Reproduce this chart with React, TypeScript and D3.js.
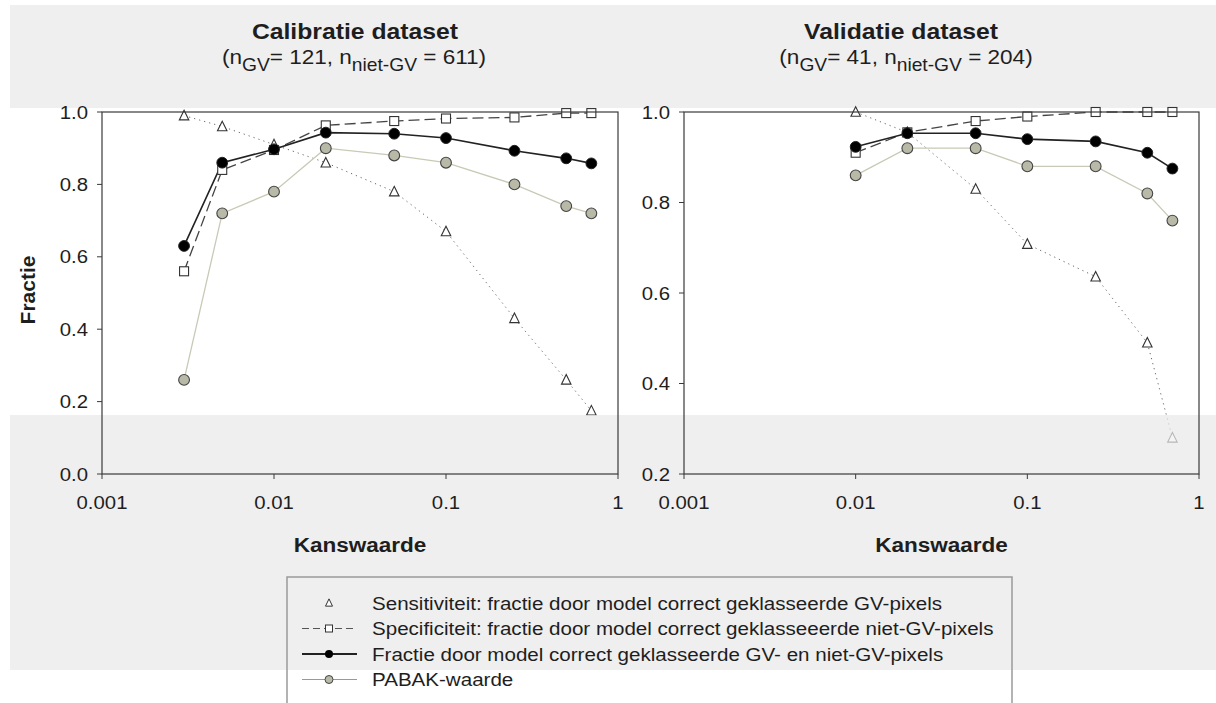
import React from "react";
import * as d3 from "d3";

// ---- data ----
const xCal = [0.003, 0.005, 0.01, 0.02, 0.05, 0.1, 0.25, 0.5, 0.7];
const sensCal = [0.99, 0.96, 0.91, 0.86, 0.78, 0.67, 0.43, 0.26, 0.175];
const specCal = [0.56, 0.84, 0.895, 0.963, 0.975, 0.982, 0.985, 0.997, 0.997];
const fracCal = [0.63, 0.86, 0.897, 0.943, 0.94, 0.928, 0.893, 0.872, 0.858];
const pabakCal = [0.26, 0.72, 0.78, 0.9, 0.88, 0.86, 0.8, 0.74, 0.72];

const xVal = [0.01, 0.02, 0.05, 0.1, 0.25, 0.5, 0.7];
const sensVal = [1.0, 0.955, 0.83, 0.708, 0.636, 0.49, 0.28];
const specVal = [0.91, 0.955, 0.98, 0.99, 1.0, 1.0, 1.0];
const fracVal = [0.923, 0.953, 0.953, 0.94, 0.935, 0.91, 0.875];
const pabakVal = [0.86, 0.92, 0.92, 0.88, 0.88, 0.82, 0.76];

const xTicks = [0.001, 0.01, 0.1, 1];
const xTickLabels = ["0.001", "0.01", "0.1", "1"];
const yTicksCal = [0, 0.2, 0.4, 0.6, 0.8, 1.0];
const yTicksVal = [0.2, 0.4, 0.6, 0.8, 1.0];

const legendLabels = [
  "Sensitiviteit: fractie door model correct geklasseerde GV-pixels",
  "Specificiteit: fractie door model correct geklasseeerde niet-GV-pixels",
  "Fractie door model correct geklasseerde GV- en niet-GV-pixels",
  "PABAK-waarde",
];

const FONT = "'Liberation Sans', Arial, sans-serif";
const SX = 1.1;
const TXT = "#1e1e1e";
const BAND = "#efefef";

function SText({ x, y, size, anchor = "start", bold = false, children }: any) {
  return (
    <text
      transform={`translate(${x},${y}) scale(${SX},1)`}
      fontSize={size}
      fontFamily={FONT}
      fontWeight={bold ? "bold" : "normal"}
      textAnchor={anchor}
      fill={TXT}
    >
      {children}
    </text>
  );
}

function Triangle({ cx, cy, s = 9.5, sw = 1.1 }: any) {
  const h = s * 0.9;
  const p = `M${cx},${cy - h / 2 - 1}L${cx + s / 2},${cy + h / 2}L${cx - s / 2},${cy + h / 2}Z`;
  return <path d={p} fill="#fff" stroke="#333" strokeWidth={sw} />;
}
function Square({ cx, cy, s = 9, sw = 1.1 }: any) {
  return <rect x={cx - s / 2} y={cy - s / 2} width={s} height={s} fill="#fff" stroke="#333" strokeWidth={sw} />;
}

type PanelProps = {
  x0: number; x1: number; y0: number; y1: number;
  yDomain: [number, number]; yTicks: number[];
  xs: number[]; sens: number[]; spec: number[]; frac: number[]; pabak: number[];
};

function Panel(p: PanelProps) {
  const xs = d3.scaleLog().domain([0.001, 1]).range([p.x0, p.x1]);
  const ys = d3.scaleLinear().domain(p.yDomain).range([p.y1, p.y0]);
  const mk = (vals: number[]) =>
    d3.line<number>().x((_, i) => xs(p.xs[i])).y((v) => ys(v))(vals) || "";
  return (
    <g>
      {/* lines */}
      <path d={mk(p.sens)} fill="none" stroke="#666" strokeWidth={1} strokeDasharray="1.2,4" />
      <path d={mk(p.pabak)} fill="none" stroke="#c9c9b6" strokeWidth={1.3} />
      <path d={mk(p.spec)} fill="none" stroke="#444" strokeWidth={1.3} strokeDasharray="11,5" />
      <path d={mk(p.frac)} fill="none" stroke="#222" strokeWidth={1.6} />
      {/* markers */}
      {p.sens.map((v, i) => <Triangle key={"t" + i} cx={xs(p.xs[i])} cy={ys(v)} />)}
      {p.pabak.map((v, i) => (
        <circle key={"p" + i} cx={xs(p.xs[i])} cy={ys(v)} r={5.4} fill="#b9b9a8" stroke="#444" strokeWidth={1.1} />
      ))}
      {p.spec.map((v, i) => <Square key={"s" + i} cx={xs(p.xs[i])} cy={ys(v)} />)}
      {p.frac.map((v, i) => (
        <circle key={"f" + i} cx={xs(p.xs[i])} cy={ys(v)} r={5.4} fill="#000" stroke="#222" strokeWidth={1} />
      ))}
      {/* washed-out scan band over the lower part of the plot */}
      <rect x={p.x0 + 1} y={415} width={p.x1 - p.x0 - 2} height={p.y1 - 415 - 1} fill={BAND} opacity={0.7} />
      {/* frame */}
      <rect x={p.x0} y={p.y0} width={p.x1 - p.x0} height={p.y1 - p.y0} fill="none" stroke="#3a3a3a" strokeWidth={1.2} />
      {/* y ticks */}
      {p.yTicks.map((t) => (
        <g key={"y" + t}>
          <line x1={p.x0 - 5} x2={p.x0} y1={ys(t)} y2={ys(t)} stroke="#3a3a3a" strokeWidth={1} />
          <SText x={p.x0 - 14} y={ys(t) + 6.5} size={18.5} anchor="end">{t.toFixed(1)}</SText>
        </g>
      ))}
      {/* x ticks */}
      {xTicks.map((t, i) => (
        <g key={"x" + t}>
          <line x1={xs(t)} x2={xs(t)} y1={p.y1} y2={p.y1 + 5} stroke="#3a3a3a" strokeWidth={1} />
          <SText x={xs(t)} y={p.y1 + 35} size={18.5} anchor="middle">{xTickLabels[i]}</SText>
        </g>
      ))}
      <SText x={(p.x0 + p.x1) / 2} y={552} size={20.5} anchor="middle" bold>Kanswaarde</SText>
    </g>
  );
}

function Subtitle({ x, y, gv, niet }: any) {
  return (
    <text
      transform={`translate(${x},${y}) scale(${SX},1)`}
      fontSize={20.5}
      fontFamily={FONT}
      textAnchor="middle"
      fill={TXT}
    >
      <tspan>(n</tspan>
      <tspan fontSize={17.5} dy={7}>GV</tspan>
      <tspan dy={-7}>{`= ${gv}, n`}</tspan>
      <tspan fontSize={17.5} dy={7}>niet-GV</tspan>
      <tspan dy={-7}>{` = ${niet})`}</tspan>
    </text>
  );
}

export default function App() {
  const W = 1216, H = 703;
  const rowY = [603, 628.5, 654, 679.5];
  const sx0 = 302, sx1 = 357, scx = 329;
  return (
    <svg width={W} height={H} style={{ position: "absolute", left: 0, top: 0, background: "#fff" }}>
      {/* scan-like background bands */}
      <rect x={10} y={5} width={W - 10} height={103} fill={BAND} />
      <rect x={10} y={415} width={W - 10} height={255} fill={BAND} />

      <SText x={355} y={39} size={22.5} anchor="middle" bold>Calibratie dataset</SText>
      <Subtitle x={354} y={64} gv={121} niet={611} />
      <SText x={901} y={39} size={22.5} anchor="middle" bold>Validatie dataset</SText>
      <Subtitle x={906} y={64} gv={41} niet={204} />

      <text transform="translate(35,290) rotate(-90)" fontSize={21} fontWeight="bold" fontFamily={FONT} textAnchor="middle" fill={TXT}>Fractie</text>

      <Panel x0={102} x1={618} y0={112} y1={474} yDomain={[0, 1]} yTicks={yTicksCal}
        xs={xCal} sens={sensCal} spec={specCal} frac={fracCal} pabak={pabakCal} />
      <Panel x0={684} x1={1199} y0={112} y1={474} yDomain={[0.2, 1]} yTicks={yTicksVal}
        xs={xVal} sens={sensVal} spec={specVal} frac={fracVal} pabak={pabakVal} />

      {/* legend */}
      <rect x={287} y={577} width={725} height={140} fill="none" stroke="#9a9a9a" strokeWidth={1.5} />
      <Triangle cx={scx} cy={rowY[0]} s={7} sw={1} />
      <line x1={sx0} x2={sx1} y1={rowY[1]} y2={rowY[1]} stroke="#555" strokeWidth={1.2} strokeDasharray="7,4" />
      <Square cx={scx} cy={rowY[1]} s={7} sw={1} />
      <line x1={sx0} x2={sx1} y1={rowY[2]} y2={rowY[2]} stroke="#222" strokeWidth={2} />
      <circle cx={scx} cy={rowY[2]} r={4} fill="#000" />
      <line x1={sx0} x2={sx1} y1={rowY[3]} y2={rowY[3]} stroke="#999" strokeWidth={1} />
      <circle cx={scx} cy={rowY[3]} r={4} fill="#b9b9a8" stroke="#444" strokeWidth={1} />
      {legendLabels.map((l, i) => (
        <SText key={l} x={372} y={rowY[i] + 6.5} size={18.7}>{l}</SText>
      ))}
    </svg>
  );
}
